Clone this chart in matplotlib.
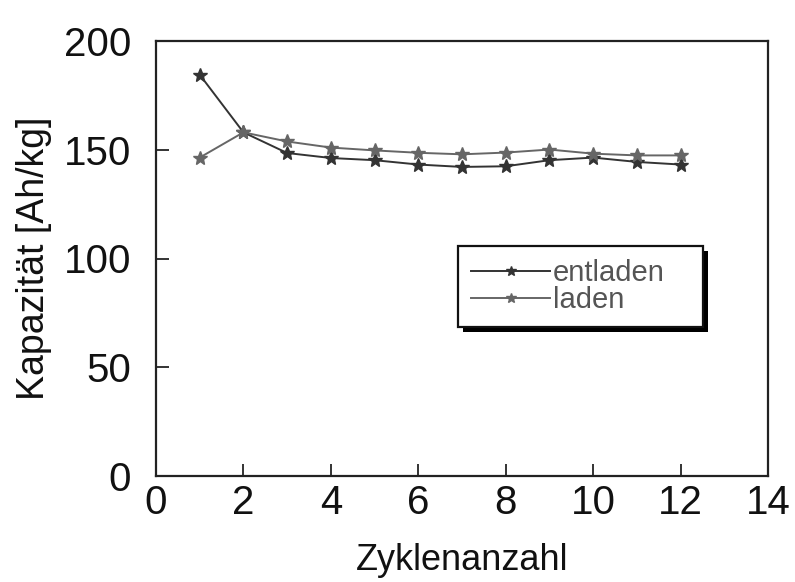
import matplotlib
matplotlib.use('Agg')
import matplotlib.pyplot as plt
from matplotlib.patches import Rectangle

plt.rcParams['font.family'] = ['Liberation Sans', 'DejaVu Sans']

# Zyklen und Kapazitaet (Ah/kg)
zyklen = [1, 2, 3, 4, 5, 6, 7, 8, 9, 10, 11, 12]
entladen = [184.5, 158, 148.5, 146.2, 145.2, 143.2, 142.1, 142.4, 145.2, 146.4, 144.4, 143.2]
laden = [146.4, 158, 153.8, 151.0, 149.7, 148.6, 147.9, 148.7, 150.1, 148.2, 147.4, 147.4]

xticks = [0, 2, 4, 6, 8, 10, 12, 14]
yticks = [0, 50, 100, 150, 200]

W, H = 795, 582
fig = plt.figure(figsize=(W / 100, H / 100), dpi=100)
ax = fig.add_axes([156 / W, 1 - 476 / H, (768 - 156) / W, (476 - 41) / H])

ax.plot(zyklen, entladen, color='#333333', lw=1.4, marker='*', ms=10, label='entladen')
ax.plot(zyklen, laden, color='#666666', lw=1.4, marker='*', ms=10, label='laden')

ax.set_xlim(0, 14)
ax.set_ylim(0, 200)
ax.set_xticks(xticks)
ax.set_yticks(yticks)
ax.tick_params(direction='in', length=9, width=1.2, labelsize=29, colors='#111111')
ax.tick_params(axis='x', pad=6)
ax.tick_params(axis='y', pad=18)
for s in ax.spines.values():
    s.set_linewidth(1.6)
    s.set_color('#222222')

ax.set_xlabel('Zyklenanzahl', fontsize=26, color='#111111', labelpad=15)
ax.set_ylabel('Kapazität [Ah/kg]', fontsize=27, color='#111111', labelpad=8)

leg = ax.legend(loc='center left', bbox_to_anchor=(458 / W, 1 - 327 / H, 245 / W, 81 / H),
                bbox_transform=fig.transFigure, mode='expand', fontsize=21,
                handlelength=2.7, handletextpad=0.1, labelspacing=-0.05, borderpad=0.45,
                borderaxespad=0, markerscale=0.7,
                fancybox=False, framealpha=1, edgecolor='#111111')
leg.get_frame().set_linewidth(1.6)
for t in leg.get_texts():
    t.set_color('#555555')

# schwarzer Schatten unter der Legende
fig.canvas.draw()
bb = leg.get_frame().get_window_extent()
sh = Rectangle((bb.x0 + 5, bb.y0 - 5), bb.width, bb.height, transform=None,
               facecolor='black', edgecolor='none', zorder=leg.get_zorder() - 0.1)
ax.add_artist(sh)

fig.savefig('out.png', dpi=100)
